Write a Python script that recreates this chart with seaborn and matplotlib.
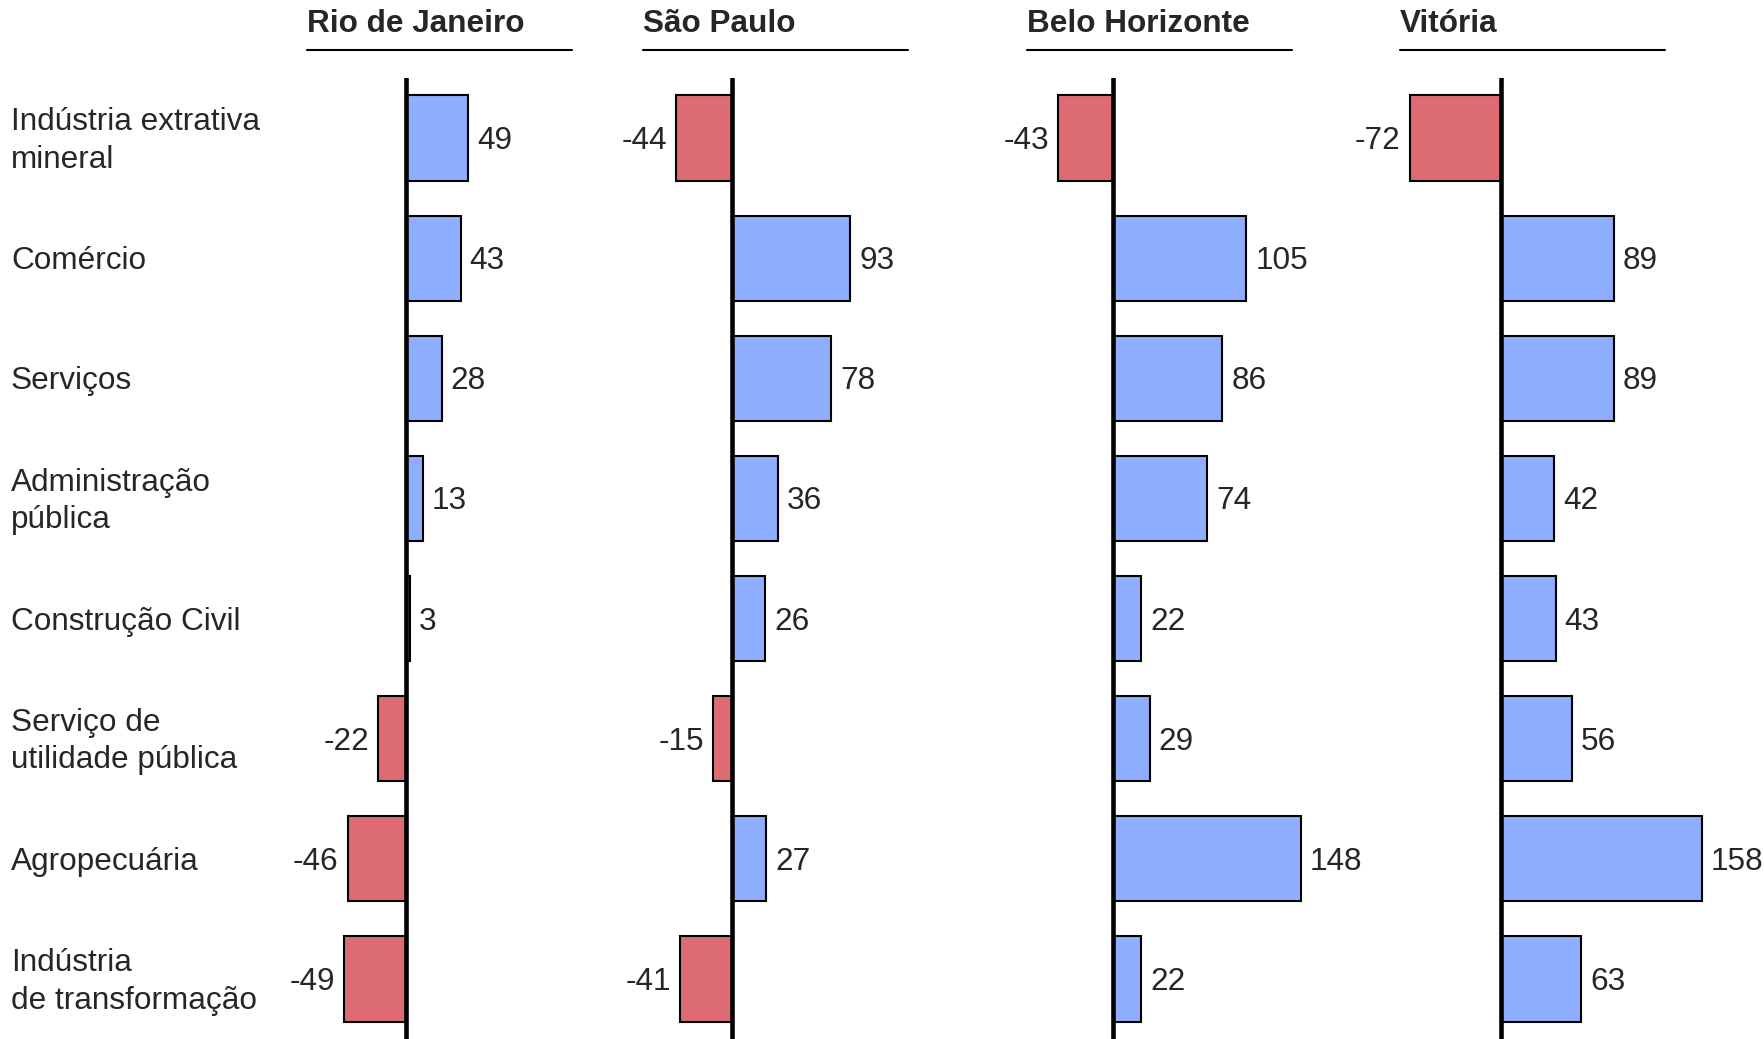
import numpy as np
import pandas as pd
import matplotlib
matplotlib.use("Agg")
import matplotlib.pyplot as plt
import matplotlib.transforms as mtransforms
from matplotlib.lines import Line2D
import seaborn as sns

sns.set_style("white")
plt.rcParams['font.family'] = ['Liberation Sans', 'DejaVu Sans']

# dados
setores = ['Indústria extrativa\nmineral', 'Comércio', 'Serviços', 'Administração\npública',
           'Construção Civil', 'Serviço de\nutilidade pública', 'Agropecuária',
           'Indústria\nde transformação']
cidades = ['Rio de Janeiro', 'São Paulo', 'Belo Horizonte', 'Vitória']
rio = [49, 43, 28, 13, 3, -22, -46, -49]
sao_paulo = [-44, 93, 78, 36, 26, -15, 27, -41]
belo_horizonte = [-43, 105, 86, 74, 22, 29, 148, 22]
vitoria = [-72, 89, 89, 42, 43, 56, 158, 63]
valores = [rio, sao_paulo, belo_horizonte, vitoria]

COR_POS = '#90AEFF'
COR_NEG = '#DD6B73'
FS = 22.7

W, H = 1764, 1039
fig = plt.figure(figsize=(W / 100, H / 100), dpi=100)

k = 1.27                       # pixels por unidade
zeros_px = [406, 732, 1113, 1501]
titulo_px = [307, 643, 1027, 1400]
top_px = 78
esq_px, dir_px = 110, 230

eixos = []
for cidade, vals, z, tx in zip(cidades, valores, zeros_px, titulo_px):
    ax = fig.add_axes([(z - esq_px) / W, 0, (esq_px + dir_px) / W, 1 - top_px / H])
    ax.patch.set_alpha(0)
    df = pd.DataFrame({'setor': setores, 'valor': vals})
    df['sinal'] = np.where(df['valor'] >= 0, 'pos', 'neg')
    sns.barplot(data=df, x='valor', y='setor', hue='sinal', order=setores,
                palette={'pos': COR_POS, 'neg': COR_NEG}, dodge=False, width=0.71,
                saturation=1, orient='h', edgecolor='black', linewidth=1.5,
                legend=False, ax=ax)
    ax.set_xlim(-esq_px / k, dir_px / k)
    ax.set_ylim(len(setores) - 0.5, -0.5)
    ax.axvline(0, color='black', lw=3.3, zorder=5)
    for s in ax.spines.values():
        s.set_visible(False)
    ax.set_xticks([])
    ax.set_yticks([])
    ax.set_xlabel('')
    ax.set_ylabel('')
    for i, v in enumerate(vals):
        off = 6.5 if v >= 0 else -6.5
        ax.annotate(str(v), xy=(v, i), xytext=(off, -2.2), textcoords='offset points',
                    ha='left' if v >= 0 else 'right', va='center', fontsize=FS)

    # título e sublinhado
    fig.text(tx / W, 1 - 23.5 / H, cidade, fontsize=FS, fontweight='bold',
             ha='left', va='center')
    fig.add_artist(Line2D([tx / W, (tx + 265) / W], [1 - 49.5 / H, 1 - 49.5 / H],
                          color='black', lw=1.5, transform=fig.transFigure))
    eixos.append(ax)

# rótulos das categorias
trans = mtransforms.blended_transform_factory(fig.transFigure, eixos[0].transData)
trans = trans + mtransforms.ScaledTranslation(0, -3 / 100, fig.dpi_scale_trans)
for i, nome in enumerate(setores):
    fig.text(11 / W, i, nome, transform=trans, fontsize=FS, ha='left', va='center',
             linespacing=1.33)

fig.savefig('out.png', dpi=100)
plt.close(fig)
